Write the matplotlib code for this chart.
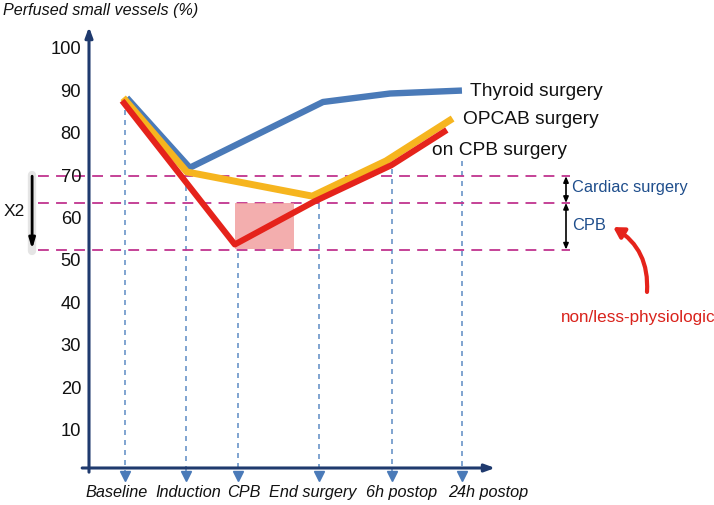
import numpy as np
import matplotlib.pyplot as plt
from matplotlib.patches import Rectangle

plt.rcParams['font.family'] = ['Liberation Sans', 'DejaVu Sans']

# time points (arbitrary horizontal units, baseline .. 24h)
stages = ['Baseline', 'Induction', 'CPB', 'End surgery', '6h postop', '24h postop']
stage_pos = [1.0, 2.69, 4.14, 6.39, 8.42, 10.36]
label_pos = [0.78, 2.75, 4.31, 6.22, 8.67, 11.08]
guide_top = [88.0, 67.7, 52.0, 63.4, 71.7, 73.6]   # where each dotted guide stops

# series
thyroid_x = [1.05, 2.8, 6.5, 8.36, 10.36]
thyroid_y = [88.5, 72.0, 87.5, 89.5, 90.2]
opcab_x = [0.95, 2.72, 6.2, 8.25, 10.1]
opcab_y = [88.5, 71.0, 65.3, 73.6, 83.6]
oncpb_x = [0.92, 4.05, 6.25, 8.4, 9.94]
oncpb_y = [87.8, 53.9, 64.0, 72.6, 80.9]

# reference levels and shaded drop
levels = [70.0, 63.7, 52.7]
drop_x = [4.06, 5.69]
drop_y = [52.8, 63.7]

yticks = [10, 20, 30, 40, 50, 60, 70, 80, 90, 100]

navy = '#1f3a6e'
blue = '#4a7ab8'
yellow = '#f6b51f'
red = '#e5231b'
magenta = '#c0348f'
guide = '#6a95c8'

fig = plt.figure(figsize=(7.14, 5.06), dpi=100)
ax = fig.add_axes([0, 0, 1, 1])
ax.set_xlim(-89 / 36, (714 - 89) / 36)
ax.set_ylim((474 - 506) / 4.24, 474 / 4.24)
ax.axis('off')

# axes with arrows
ax.annotate('', xy=(0, 105.2), xytext=(0, 0.2),
            arrowprops=dict(arrowstyle='-|>,head_length=0.6,head_width=0.22',
                            color=navy, lw=2.2, shrinkA=0, shrinkB=0))
ax.annotate('', xy=(11.28, 1.18), xytext=(-0.19, 1.18),
            arrowprops=dict(arrowstyle='-|>,head_length=0.6,head_width=0.22',
                            color=navy, lw=2.2, shrinkA=0, shrinkB=0))

for v in yticks:
    ax.text(-0.22, v, str(v), ha='right', va='center', fontsize=13.2, color='#111111')

ax.text(-2.39, 109.4, 'Perfused small vessels (%)', ha='left', va='center',
        fontsize=11.6, style='italic', color='#111111')

# dotted guides with arrowheads
for p, top in zip(stage_pos, guide_top):
    ax.plot([p, p], [top, 0.2], color=guide, lw=1.2, ls=(0, (3, 3)), zorder=1)
    ax.plot(p, -0.7, marker='v', color=blue, markersize=7, zorder=2, clip_on=False)
for s, p in zip(stages, label_pos):
    ax.text(p, -4.25, s, ha='center', va='center', fontsize=11.7,
            style='italic', color='#111111')

# horizontal reference levels
for lv in levels:
    ax.plot([-1.42, 13.36], [lv, lv], color=magenta, lw=1.3, ls=(0, (6, 4)), zorder=1)

ax.add_patch(Rectangle((drop_x[0], drop_y[0]), drop_x[1] - drop_x[0],
                       drop_y[1] - drop_y[0], color='#f19a9a', alpha=0.8, lw=0, zorder=2))

ax.plot(thyroid_x, thyroid_y, color=blue, lw=4.6, solid_capstyle='butt', zorder=3)
ax.plot(opcab_x, opcab_y, color=yellow, lw=5.0, solid_capstyle='butt', zorder=4)
ax.plot(oncpb_x, oncpb_y, color=red, lw=4.4, solid_capstyle='butt', zorder=5)

ax.text(10.58, 90.3, 'Thyroid surgery', ha='left', va='center', fontsize=13.8, color='#111111')
ax.text(10.39, 83.7, 'OPCAB surgery', ha='left', va='center', fontsize=13.8, color='#111111')
ax.text(9.53, 76.4, 'on CPB surgery', ha='left', va='center', fontsize=13.8, color='#111111')

# ranges on the right
for lo, hi in [(levels[1], levels[0]), (levels[2], levels[1])]:
    ax.annotate('', xy=(13.25, hi), xytext=(13.25, lo),
                arrowprops=dict(arrowstyle='<|-|>,head_length=0.35,head_width=0.15',
                                color='black', lw=1.2, shrinkA=0, shrinkB=0))
ax.text(13.42, 67.5, 'Cardiac surgery', ha='left', va='center', fontsize=11.8, color='#1f4e8c')
ax.text(13.42, 58.5, 'CPB', ha='left', va='center', fontsize=11.8, color='#1f4e8c')

ax.text(13.1, 37.0, 'non/less-physiologic', ha='left', va='center', fontsize=12.3, color='#d9231c')
ax.annotate('', xy=(14.56, 58.0), xytext=(15.5, 42.7),
            arrowprops=dict(arrowstyle='-|>,head_length=0.6,head_width=0.35',
                            color=red, lw=3.0, shrinkA=0, shrinkB=0,
                            connectionstyle='arc3,rad=0.3'))

# x2 arrow with glow
ax.plot([-1.58, -1.58], [70.2, 52.4], color='#cccccc', lw=6, alpha=0.5,
        solid_capstyle='round', zorder=1)
ax.annotate('', xy=(-1.58, 52.8), xytext=(-1.58, 70.0),
            arrowprops=dict(arrowstyle='-|>,head_length=0.6,head_width=0.18',
                            color='black', lw=2.0, shrinkA=0, shrinkB=0))
ax.text(-2.08, 61.8, 'X2', ha='center', va='center', fontsize=12.5, color='#111111')

fig.savefig('out.png', dpi=100)
